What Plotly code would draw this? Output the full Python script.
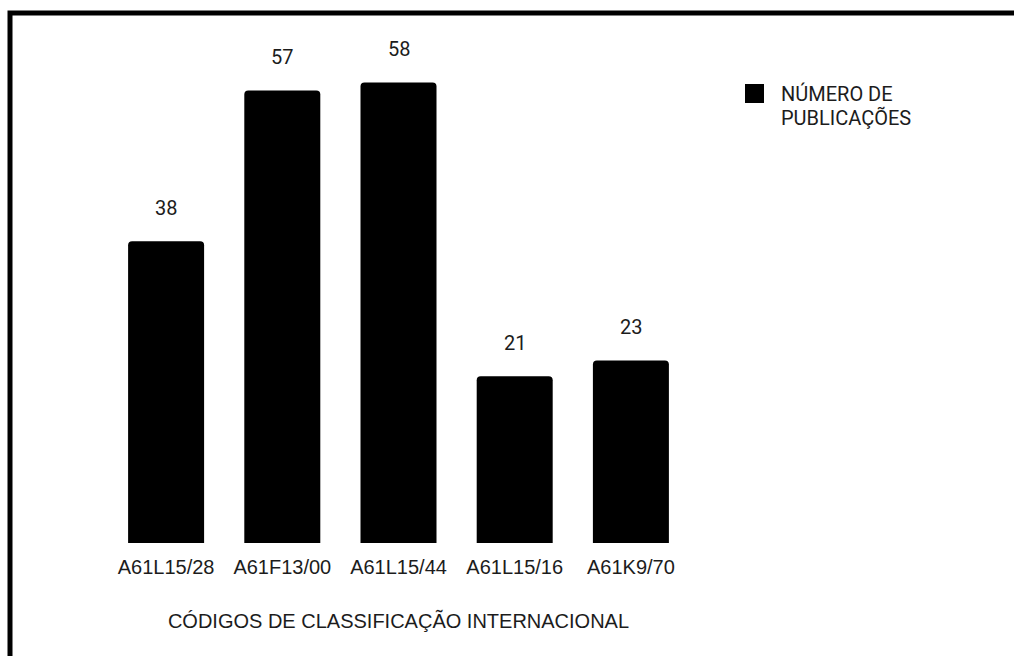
import plotly.graph_objects as go

# Publication counts per international patent classification code
codigos = ["A61L15/28", "A61F13/00", "A61L15/44", "A61L15/16", "A61K9/70"]
publicacoes = [38, 57, 58, 21, 23]
legenda_linhas = ["NÚMERO DE", "PUBLICAÇÕES"]
titulo_eixo_x = "CÓDIGOS DE CLASSIFICAÇÃO INTERNACIONAL"

TEXT_COLOR = "#1c1c1c"
AXIS_FONT = "Liberation Sans, Arial, sans-serif"
LABEL_FONT = "Roboto, Liberation Sans, sans-serif"

W, H = 1014, 656
L, R, T, B = 108, 325, 30, 113
PLOT_W = W - L - R
PLOT_H = H - T - B


def px_x(p):
    """Convert a horizontal pixel position to paper coordinates."""
    return (p - L) / PLOT_W


def px_y(p):
    """Convert a vertical pixel position to paper coordinates."""
    return (H - B - p) / PLOT_H


fig = go.Figure(
    go.Bar(
        x=codigos,
        y=publicacoes,
        marker=dict(color="#000000", line=dict(width=0), cornerradius=4),
        showlegend=False,
        hoverinfo="x+y",
    )
)

# Value labels above each bar
for c, v in zip(codigos, publicacoes):
    fig.add_annotation(
        x=c, y=v, xref="x", yref="y",
        text=str(v), showarrow=False,
        yanchor="middle", yshift=33,
        font=dict(family=LABEL_FONT, size=20, color=TEXT_COLOR),
    )

# Legend swatch and text
fig.add_shape(
    type="rect", xref="paper", yref="paper",
    x0=px_x(745), x1=px_x(764), y0=px_y(103), y1=px_y(84),
    fillcolor="#000000", line=dict(width=0), layer="above",
)
for i, linha in enumerate(legenda_linhas):
    fig.add_annotation(
        x=px_x(779), y=px_y(94 + 24 * i), xref="paper", yref="paper",
        text=linha, showarrow=False, xanchor="left", yanchor="middle",
        font=dict(family=LABEL_FONT, size=20, color=TEXT_COLOR),
    )

# Frame along the top and left edges
fig.add_shape(
    type="rect", xref="paper", yref="paper",
    x0=px_x(10), x1=px_x(1100), y0=px_y(13), y1=px_y(760),
    line=dict(color="#000000", width=5), fillcolor="rgba(0,0,0,0)",
    layer="above",
)

fig.update_layout(
    width=W, height=H,
    margin=dict(l=L, r=R, t=T, b=B, pad=0),
    paper_bgcolor="#ffffff",
    plot_bgcolor="#ffffff",
    bargap=0.346,
    showlegend=False,
    xaxis=dict(
        showgrid=False, zeroline=False, showline=False,
        ticks="", ticklabelstandoff=10,
        tickfont=dict(family=AXIS_FONT, size=20, color=TEXT_COLOR),
        title=dict(text=titulo_eixo_x, standoff=36,
                   font=dict(family=AXIS_FONT, size=20, color=TEXT_COLOR)),
        fixedrange=True,
    ),
    yaxis=dict(
        range=[0, PLOT_H / 7.94],
        visible=False, showgrid=False, zeroline=False, fixedrange=True,
    ),
)

fig.write_html("out.html")
